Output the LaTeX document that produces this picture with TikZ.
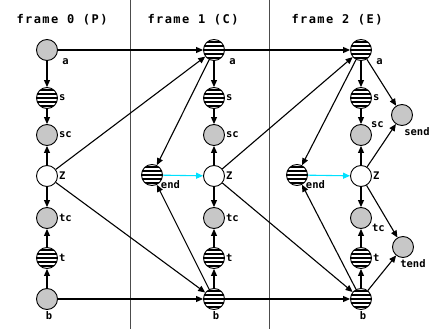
\documentclass[tikz,border=0pt]{standalone}
\usepackage{fontspec}
\newfontfamily\lblfont{DejaVu Sans Mono}
\newfontfamily\ttlfont[LetterSpace=12]{DejaVu Sans Mono}
\usetikzlibrary{arrows.meta}
\definecolor{vgray}{gray}{0.78}
\definecolor{linkcyan}{RGB}{0,225,255}
\tikzset{
 vtx/.style={circle,draw,line width=0.9pt,minimum size=21pt,inner sep=0pt},
 pv/.style={vtx,fill=vgray},
 sv/.style={vtx,fill=white,path picture={
   \foreach \k in {-8,-4,0,4,8}
    \draw[line width=1.8pt] ([xshift=-15pt,yshift=\k pt]path picture bounding box.center) -- ++(30pt,0);}},
 zv/.style={vtx,fill=white},
 every label/.style={font=\lblfont\bfseries\fontsize{10.5}{10.5}\selectfont,inner sep=1pt},
 arr/.style={-{Triangle[length=7pt,width=6pt]},line width=1.1pt},
 hd/.style={font=\ttlfont\bfseries\fontsize{12}{12}\selectfont},
}

\begin{document}
\begin{tikzpicture}[x=1pt,y=-1pt]
\useasboundingbox (0,0) rectangle (432,329);
\draw[line width=0.8pt,black!70] (130,0) -- (130,329) (269,0) -- (269,329);
\node[hd] (hd0) at (62,20) {frame 0 (P)};
\node[hd] (hd1) at (193,20) {frame 1 (C)};
\node[hd] (hd2) at (337,20) {frame 2 (E)};
% one column per frame
\foreach \n/\x/\ta/\tb/\scl/\tcl in {0/47/pv/pv/0/0,1/214/sv/sv/0/0,2/361/sv/sv/35/-25} {
 \node[\ta,label={[xshift=5pt,label distance=1pt]-40:a}] (a\n) at (\x,50) {};
 \node[sv,label=0:s] (s\n) at (\x,98) {};
 \node[pv,label=\scl:sc] (sc\n) at (\x,135) {};
 \node[zv,label=0:Z] (Z\n) at (\x,176) {};
 \node[pv,label=\tcl:tc] (tc\n) at (\x,218) {};
 \node[sv,label=0:t] (t\n) at (\x,258) {};
 \node[\tb,label={[xshift=2pt]-90:b}] (b\n) at (\x,299) {};
 \draw[arr] (a\n) -- (s\n);
 \draw[arr] (s\n) -- (sc\n);
 \draw[arr] (Z\n) -- (sc\n);
 \draw[arr] (Z\n) -- (tc\n);
 \draw[arr] (t\n) -- (tc\n);
 \draw[arr] (b\n) -- (t\n);
 }
\node[sv,label={[label distance=-2pt]-30:end}] (end1) at (152,175) {};
\node[sv,label={[label distance=-2pt]-30:end}] (end2) at (297,175) {};
\node[pv,label={[xshift=15pt,label distance=0pt]-90:send}] (send) at (402,115) {};
\node[pv,label={[xshift=10pt,label distance=0pt]-90:tend}] (tend) at (403,247) {};
% links between frames
\foreach \p/\q in {0/1,1/2} {
 \draw[arr] (a\p) -- (a\q);
 \draw[arr] (b\p) -- (b\q);
 \draw[arr] (Z\p) -- (a\q);
 \draw[arr] (Z\p) -- (b\q);
 \draw[arr] (a\q) -- (end\q);
 \draw[arr] (b\q) -- (end\q);
 \draw[arr,linkcyan] (end\q) -- (Z\q);
 }
\draw[arr] (a2) -- (send);
\draw[arr] (Z2) -- (send);
\draw[arr] (Z2) -- (tend);
\draw[arr] (b2) -- (tend);
\end{tikzpicture}
\end{document}
